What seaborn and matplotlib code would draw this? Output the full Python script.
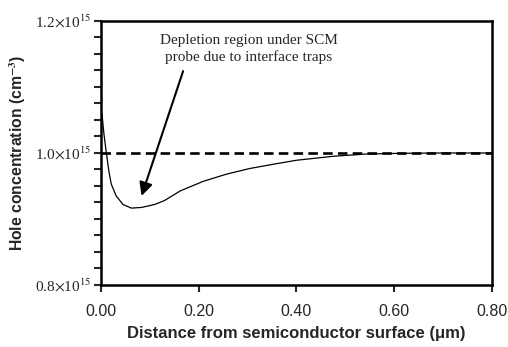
import numpy as np
import pandas as pd
import matplotlib
matplotlib.use("Agg")
import matplotlib.pyplot as plt
import seaborn as sns
from matplotlib.ticker import MultipleLocator, FixedLocator

# Data (distance in um, hole concentration in units of 1e15 cm^-3)
distance = [0.0, 0.002, 0.006, 0.011, 0.016, 0.021, 0.031, 0.045, 0.062, 0.083,
            0.110, 0.130, 0.162, 0.209, 0.257, 0.305, 0.353, 0.400, 0.475, 0.544,
            0.612, 0.70, 0.80]
concentration = [1.062, 1.0595, 1.029, 1.0, 0.973, 0.953, 0.935, 0.922, 0.9165, 0.9175,
                 0.922, 0.928, 0.9425, 0.957, 0.968, 0.9766, 0.983, 0.989, 0.995, 0.9985,
                 0.9995, 1.0, 1.0]
ref_x = [0.0, 0.80]
ref_y = [1.0, 1.0]
y_ticks = [0.8, 1.0, 1.2]
y_tick_labels = [r"0.8$\times$10$^{15}$", r"1.0$\times$10$^{15}$", r"1.2$\times$10$^{15}$"]
x_ticks = [0.0, 0.2, 0.4, 0.6, 0.8]
x_tick_labels = ["0.00", "0.20", "0.40", "0.60", "0.80"]
annotation = "Depletion region under SCM\nprobe due to interface traps"

sns.set_style("white")
plt.rcParams["font.family"] = ["Liberation Sans", "DejaVu Sans"]
plt.rcParams["mathtext.fontset"] = "stix"

fig = plt.figure(figsize=(5.08, 3.47), dpi=100)
ax = fig.add_axes([0.1988, 0.1787, 0.7697, 0.7608])

df = pd.DataFrame({"x": distance, "y": concentration})
ref = pd.DataFrame({"x": ref_x, "y": ref_y})
sns.lineplot(data=ref, x="x", y="y", ax=ax, color="black", lw=1.9,
             dashes=False, linestyle=(0, (3.6, 2.0)))
sns.lineplot(data=df, x="x", y="y", ax=ax, color="black", lw=0.9)

ax.set_xlim(0, 0.8)
ax.set_ylim(0.8, 1.2)
ax.xaxis.set_major_locator(FixedLocator(x_ticks))
ax.set_xticklabels(x_tick_labels)
ax.yaxis.set_major_locator(FixedLocator(y_ticks))
ax.set_yticklabels(y_tick_labels, family="Liberation Serif", fontsize=11)
ax.yaxis.set_minor_locator(MultipleLocator(0.025))
ax.tick_params(axis="x", labelsize=11.5, direction="out", length=5, width=1.5, pad=9, bottom=True)
ax.tick_params(axis="y", which="both", direction="out", length=5, width=1.5, pad=2, left=True)
for s in ax.spines.values():
    s.set_linewidth(1.8)
    s.set_color("black")

ax.set_xlabel("Distance from semiconductor surface (\u03bcm)", fontsize=12,
              fontweight="bold", labelpad=5)
ax.set_ylabel(r"Hole concentration (cm$^{\mathbf{-3}}$)", fontsize=11.3,
              fontweight="bold", labelpad=5)

ax.text(0.302, 1.158, annotation, ha="center", va="center",
        family="Liberation Serif", fontsize=11, linespacing=1.3)
ax.annotate("", xy=(0.083, 0.935), xytext=(0.168, 1.124),
            arrowprops=dict(arrowstyle="-|>", color="black", lw=1.5,
                            mutation_scale=20, shrinkA=0, shrinkB=0))

fig.savefig("out.png", dpi=100)
